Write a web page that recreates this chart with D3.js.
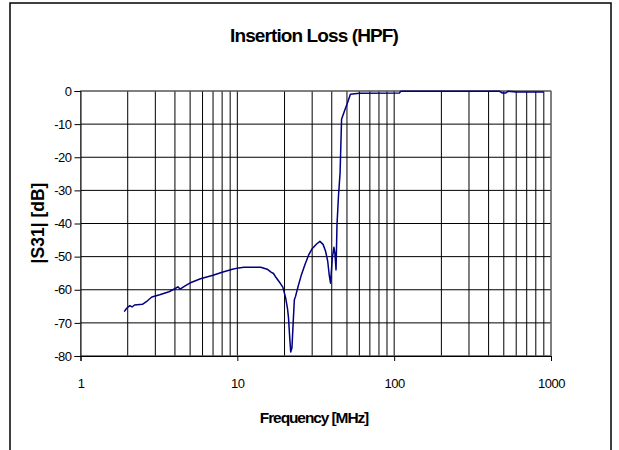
<!DOCTYPE html>
<html>
<head>
<meta charset="utf-8">
<script src="https://cdn.jsdelivr.net/npm/d3@7"></script>
<style>
  body { margin: 0; background: #fff; }
  text { font-family: "Liberation Sans", Arial, sans-serif; }
</style>
</head>
<body>
<svg id="chart" width="619" height="450"></svg>
<script>
// frequency points [MHz]
const freqMHz = [1.9, 1.97, 2.06, 2.13, 2.21, 2.48, 2.66, 2.85, 3.2, 3.67,
  3.99, 4.18, 4.31, 4.62, 5.07, 5.82, 7.0, 8.0, 9.3, 10.2,
  11.0, 14.1, 15.5, 16.4, 17.0, 17.7, 18.7, 19.5, 20.3, 20.9,
  21.2, 21.6, 21.9, 22.3, 22.7, 23.1, 23.5, 24.4, 25.5, 27.0,
  28.5, 30.0, 32.0, 33.6, 35.2, 36.5, 37.7, 38.5, 39.3, 40.3,
  41.3, 41.9, 42.6, 43.2, 44.2, 45.2, 46.2, 48.4, 50.2, 52.6,
  60.0, 108, 110, 470, 490, 515, 530, 600, 900];
// |S31| [dB]
const s31dB = [-66.6, -65.6, -64.8, -65.2, -64.6, -64.4, -63.4, -62.2, -61.5, -60.6,
  -59.7, -59.1, -59.8, -58.9, -57.8, -56.7, -55.6, -54.7, -53.8, -53.4,
  -53.2, -53.2, -53.8, -54.7, -55.1, -56.4, -57.9, -59.2, -62.3, -65.8,
  -68.5, -74.8, -78.8, -77.5, -70.0, -63.0, -62.0, -59.0, -55.8, -52.4,
  -49.5, -47.6, -46.2, -45.4, -46.3, -48.3, -51.4, -55.4, -58.0, -50.5,
  -47.2, -49.0, -54.0, -40.3, -31.3, -24.8, -8.5, -5.8, -3.8, -1.0,
  -0.7, -0.6, -0.1, -0.1, -0.6, -0.6, -0.1, -0.3, -0.3];

const xTickValues = [1, 10, 100, 1000];
const yTickValues = [0, -10, -20, -30, -40, -50, -60, -70, -80];

const titleText = "Insertion Loss (HPF)";
const xTitle = "Frequency [MHz]";
const yTitle = "|S31| [dB]";

const margin = { top: 91, right: 68, bottom: 94, left: 80.5 };
const width = 619, height = 450;
const iw = width - margin.left - margin.right;
const ih = height - margin.top - margin.bottom;

const svg = d3.select("#chart");

// outer chart border
svg.append("rect")
  .attr("x", 10).attr("y", 3)
  .attr("width", 601).attr("height", 470)
  .attr("fill", "#fff")
  .attr("stroke", "#000").attr("stroke-width", 1.5);

const x = d3.scaleLog().domain([1, 1000]).range([0, iw]);
const y = d3.scaleLinear().domain([-80, 0]).range([ih, 0]);

const g = svg.append("g")
  .attr("transform", `translate(${margin.left},${margin.top})`);

// grid
g.append("g").selectAll("line")
  .data(x.ticks())
  .join("line")
  .attr("x1", d => x(d)).attr("x2", d => x(d))
  .attr("y1", 0).attr("y2", ih)
  .attr("stroke", "#000").attr("stroke-width", 1);

g.append("g").selectAll("line")
  .data(yTickValues)
  .join("line")
  .attr("x1", 0).attr("x2", iw)
  .attr("y1", d => y(d)).attr("y2", d => y(d))
  .attr("stroke", "#000").attr("stroke-width", 1);

g.append("rect")
  .attr("width", iw).attr("height", ih)
  .attr("fill", "none").attr("stroke", "#808080");

// axes
const axX = g.append("g")
  .attr("transform", `translate(0,${ih})`)
  .call(d3.axisBottom(x).tickValues(xTickValues).tickFormat(d => String(d))
    .tickSize(5).tickPadding(18));
const axY = g.append("g")
  .call(d3.axisLeft(y).tickValues(yTickValues).tickFormat(d => String(d))
    .tickSize(6).tickPadding(3));

[axX, axY].forEach(a => {
  a.selectAll("path, line").attr("stroke", "#000");
  a.selectAll("text")
    .attr("fill", "#000")
    .style("font-size", "13px")
    .style("letter-spacing", "-0.5px");
});

// trace
const line = d3.line()
  .x((d, i) => x(freqMHz[i]))
  .y(d => y(d));

g.append("path")
  .datum(s31dB)
  .attr("d", line)
  .attr("fill", "none")
  .attr("stroke", "#000080")
  .attr("stroke-width", 1.5)
  .attr("stroke-linejoin", "round");

// titles
svg.append("text")
  .attr("x", 314).attr("y", 42)
  .attr("text-anchor", "middle")
  .style("font-size", "19px").style("font-weight", "bold")
  .style("letter-spacing", "-0.9px")
  .text(titleText);

svg.append("text")
  .attr("x", 314).attr("y", 423)
  .attr("text-anchor", "middle")
  .style("font-size", "15.5px").style("font-weight", "bold")
  .style("letter-spacing", "-1.1px")
  .text(xTitle);

svg.append("text")
  .attr("transform", "translate(44,223) rotate(-90)")
  .attr("text-anchor", "middle")
  .style("font-size", "17.5px").style("font-weight", "bold")
  .style("letter-spacing", "0px")
  .text(yTitle);
</script>
</body>
</html>
